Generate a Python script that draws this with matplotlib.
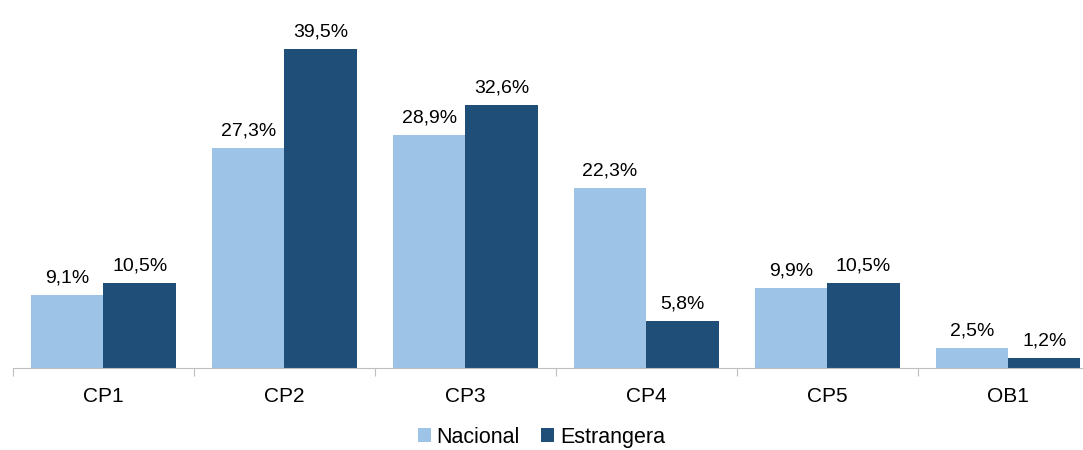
import matplotlib.pyplot as plt
import numpy as np

plt.rcParams['font.family'] = ['Liberation Sans', 'DejaVu Sans']

categorias = ['CP1', 'CP2', 'CP3', 'CP4', 'CP5', 'OB1']
nacional = [9.1, 27.3, 28.9, 22.3, 9.9, 2.5]
estrangera = [10.5, 39.5, 32.6, 5.8, 10.5, 1.2]

cor_nac = '#9DC3E6'
cor_est = '#1F4E79'

fig = plt.figure(figsize=(10.83, 4.5), dpi=100)
ax = fig.add_axes([13 / 1083, 1 - 368 / 450, 1 - 13 / 1083, 368 / 450])

x = np.arange(len(categorias))
w = 0.4
b1 = ax.bar(x - w / 2, nacional, w, color=cor_nac, label='Nacional')
b2 = ax.bar(x + w / 2, estrangera, w, color=cor_est, label='Estrangera')

for barras, vals in [(b1, nacional), (b2, estrangera)]:
    for b, v in zip(barras, vals):
        ax.annotate(f'{v:.1f}%'.replace('.', ','),
                    (b.get_x() + b.get_width() / 2, b.get_height()),
                    xytext=(0, 6), textcoords='offset points',
                    ha='center', va='bottom', fontsize=14)

for s in ['top', 'right', 'left']:
    ax.spines[s].set_visible(False)
ax.spines['bottom'].set_color('#BFBFBF')
ax.set_yticks([])

# marcas entre categorias, rotulos no centro
ax.set_xticks(np.arange(-0.5, 6, 1), minor=False)
ax.set_xticklabels([])
ax.tick_params(axis='x', which='major', length=6, color='#BFBFBF', direction='out')
ax.set_xticks(x, minor=True)
ax.set_xticklabels(categorias, minor=True, fontsize=15)
ax.tick_params(axis='x', which='minor', length=0, pad=14)

# limites depois dos ticks (set_xticks alarga a vista)
ax.set_xlim(-0.5, 5.414)
ax.set_ylim(0, 45.57)

fig.legend(loc='lower center', bbox_to_anchor=(0.5, -0.038), ncol=2, frameon=False,
           fontsize=15.5, handlelength=0.6, handleheight=0.6, handletextpad=0.25,
           columnspacing=1.0)

fig.savefig('out.png', dpi=100)
